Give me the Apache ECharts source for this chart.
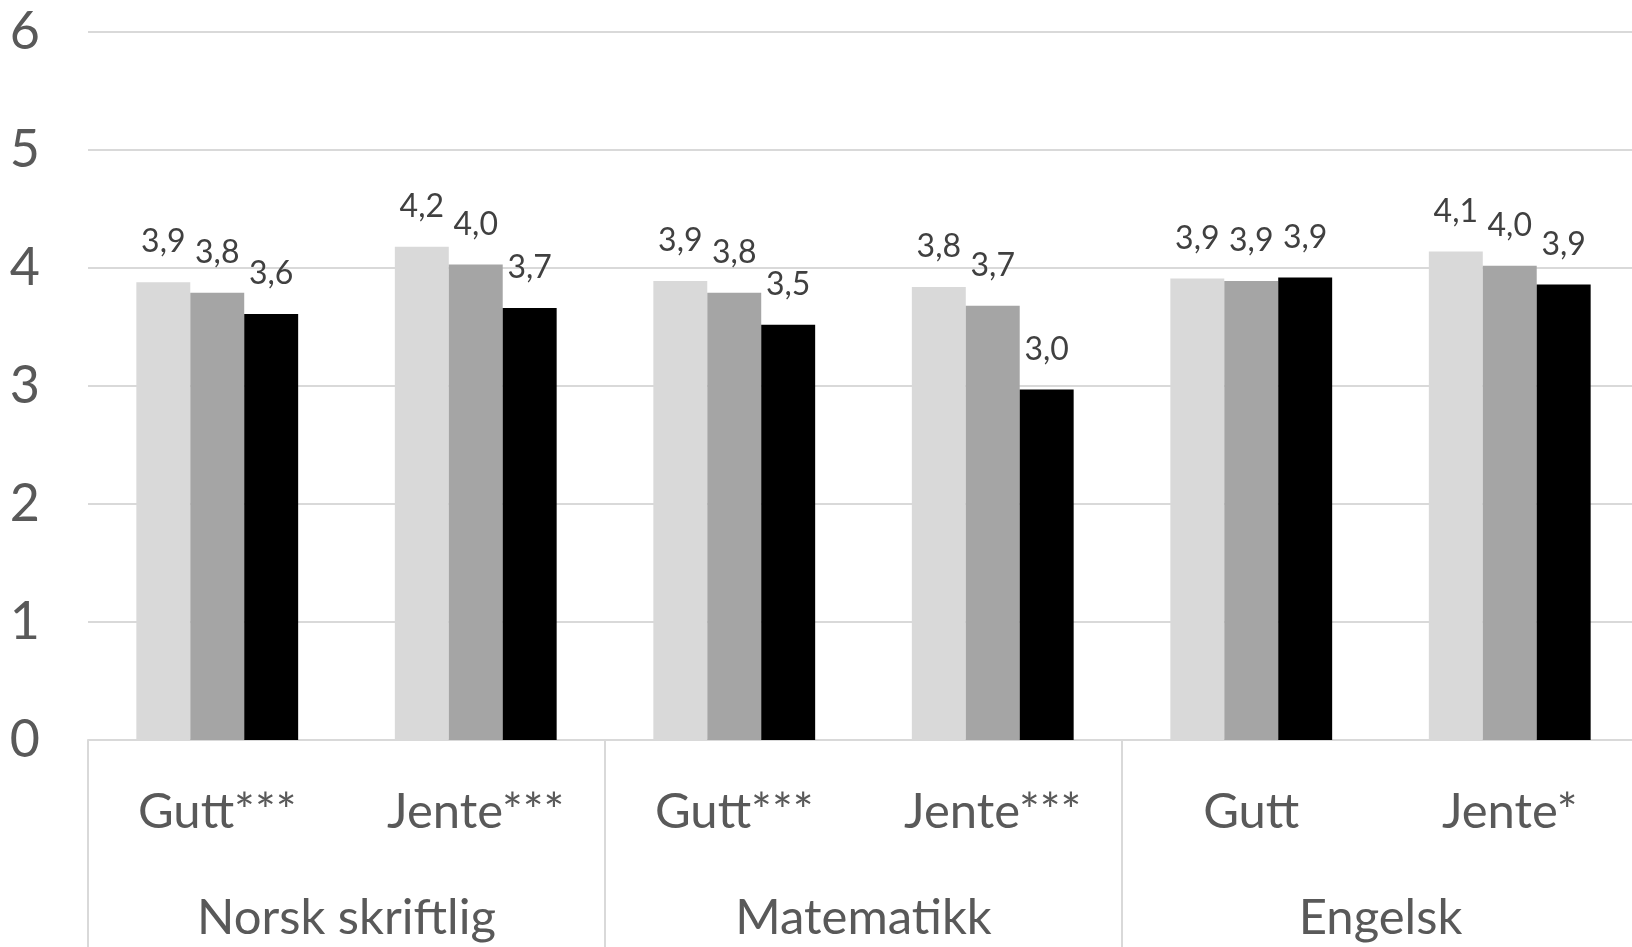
<!DOCTYPE html>
<html>
<head>
<meta charset="utf-8">
<script src="https://cdn.jsdelivr.net/npm/echarts@6/dist/echarts.min.js"></script>
<style>
  html, body { margin: 0; padding: 0; background: #ffffff; }
  #chart { width: 1632px; height: 947px; }
</style>
</head>
<body>
<div id="chart"></div>
<script>
// Subcategories (gender) and their subject groups
const genders = ['Gutt***', 'Jente***', 'Gutt***', 'Jente***', 'Gutt', 'Jente*'];
const subjects = ['Norsk skriftlig', 'Matematikk', 'Engelsk'];

// Mean grade per gender/subject for the three groups (light, mid, dark)
const seriesLight = [3.88, 4.18, 3.89, 3.84, 3.91, 4.14];
const seriesMid   = [3.79, 4.03, 3.79, 3.68, 3.89, 4.02];
const seriesDark  = [3.61, 3.66, 3.52, 2.97, 3.92, 3.86];

// Value axis ticks
const yMin = 0, yMax = 6, yStep = 1;

const FONT = 'Lato';
const gridColor = '#d9d9d9';

function barSeries(name, data, color) {
  return {
    name: name,
    type: 'bar',
    xAxisIndex: 0,
    data: data,
    barGap: '0%',
    barCategoryGap: '37.4%',
    itemStyle: { color: color },
    label: {
      show: true,
      position: 'top',
      distance: 24,
      color: '#404040',
      fontFamily: FONT,
      fontSize: 32,
      formatter: p => p.value.toFixed(1).replace('.', ',')
    }
  };
}

const chart = echarts.init(document.getElementById('chart'));
chart.setOption({
  animation: false,
  grid: {
    left: 88, width: 1551, top: 32, height: 708,
    outerBoundsMode: 'none',
    containLabel: false
  },
  xAxis: [
    {
      type: 'category',
      data: genders,
      position: 'bottom',
      axisLine: { show: true, lineStyle: { color: gridColor, width: 2 } },
      axisTick: { show: false },
      axisLabel: {
        interval: 0,
        margin: 48,
        color: '#595959',
        fontFamily: FONT,
        fontSize: 49,
        lineHeight: 49
      }
    },
    {
      type: 'category',
      data: subjects,
      position: 'bottom',
      axisLine: { show: false },
      axisTick: {
        show: true,
        interval: 0,
        length: 220,
        lineStyle: { color: gridColor, width: 2 }
      },
      axisLabel: {
        interval: 0,
        margin: 154,
        color: '#595959',
        fontFamily: FONT,
        fontSize: 49,
        lineHeight: 49
      }
    }
  ],
  yAxis: {
    type: 'value',
    min: yMin,
    max: yMax,
    interval: yStep,
    axisLine: { show: false },
    axisTick: { show: false },
    splitLine: { show: true, lineStyle: { color: gridColor, width: 2 } },
    axisLabel: {
      margin: 48,
      color: '#595959',
      fontFamily: FONT,
      fontSize: 52
    }
  },
  series: [
    barSeries('Gruppe 1', seriesLight, '#d9d9d9'),
    barSeries('Gruppe 2', seriesMid, '#a5a5a5'),
    barSeries('Gruppe 3', seriesDark, '#000000')
  ]
});
</script>
</body>
</html>
